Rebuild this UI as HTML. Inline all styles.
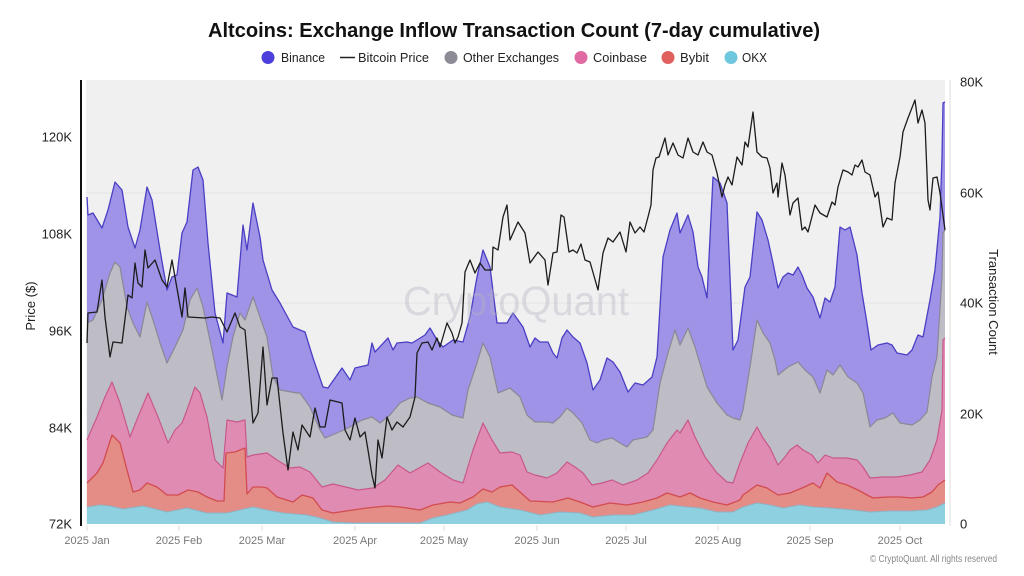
<!DOCTYPE html>
<html><head><meta charset="utf-8"><style>
html,body{margin:0;padding:0;background:#fff;}
svg{display:block;}
text{font-family:"Liberation Sans",sans-serif;}
</style></head><body>
<svg width="1024" height="576" viewBox="0 0 1024 576" xmlns="http://www.w3.org/2000/svg">
<rect x="0" y="0" width="1024" height="576" fill="#ffffff"/>
<!-- title -->
<text x="208" y="37" font-size="20" font-weight="bold" fill="#111" textLength="612" lengthAdjust="spacingAndGlyphs">Altcoins: Exchange Inflow Transaction Count (7-day cumulative)</text>
<!-- legend -->
<g font-size="13" fill="#222">
<circle cx="268" cy="57.5" r="6.5" fill="#4d3fdc"/>
<text x="281" y="62" textLength="44" lengthAdjust="spacingAndGlyphs">Binance</text>
<line x1="340" y1="57.5" x2="355" y2="57.5" stroke="#222" stroke-width="1.5"/>
<text x="358" y="62" textLength="71" lengthAdjust="spacingAndGlyphs">Bitcoin Price</text>
<circle cx="451" cy="57.5" r="6.5" fill="#8d8b95"/>
<text x="463" y="62" textLength="96" lengthAdjust="spacingAndGlyphs">Other Exchanges</text>
<circle cx="581" cy="57.5" r="6.5" fill="#e06aa4"/>
<text x="593" y="62" textLength="54" lengthAdjust="spacingAndGlyphs">Coinbase</text>
<circle cx="668" cy="57.5" r="6.5" fill="#e0605e"/>
<text x="680" y="62" textLength="29" lengthAdjust="spacingAndGlyphs">Bybit</text>
<circle cx="731" cy="57.5" r="6.5" fill="#6fc7df"/>
<text x="742" y="62" textLength="25" lengthAdjust="spacingAndGlyphs">OKX</text>
</g>
<!-- plot bg -->
<rect x="86" y="80" width="859" height="444" fill="#f0f0f0"/>
<g stroke="#e3e3e3" stroke-width="1">
<line x1="86" y1="193" x2="945" y2="193"/>
<line x1="86" y1="303" x2="945" y2="303"/>
<line x1="86" y1="414" x2="945" y2="414"/>
</g>
<!-- areas -->
<g stroke-linejoin="round">
<polygon fill="#9e93e6" points="87,197 88,215 93,213 102,228 108,210 115,182 122,190 128,227 135,248 140,230 147,187 152,200 160,250 167,290 172,277 177,275 182,233 187,222 193,170 198,167 203,180 208,243 215,313 223,343 227,293 237,297 243,225 247,250 253,203 260,237 263,260 272,290 280,303 293,327 300,330 305,332 313,358 323,387 328,388 342,368 350,380 355,368 368,365 372,343 375,352 388,338 393,350 397,343 407,342 412,343 417,340 425,335 430,328 437,340 443,347 453,340 463,342 470,317 477,277 483,250 490,267 497,323 507,323 513,313 523,327 530,347 535,338 540,342 548,342 553,353 557,358 562,338 567,330 573,337 580,343 587,363 593,390 600,380 607,358 613,362 620,372 628,392 635,383 643,385 652,377 657,357 663,257 670,230 677,213 680,233 688,215 693,232 698,267 702,277 707,298 713,177 720,183 727,203 733,350 738,340 745,287 750,277 757,212 762,220 768,240 773,263 778,288 783,277 788,273 793,275 798,267 802,275 807,288 813,297 820,318 825,298 830,302 835,287 840,227 845,230 850,227 857,255 862,293 867,323 871,350 878,345 887,343 892,345 897,353 907,355 912,350 918,335 923,337 930,300 935,270 940,217 942,157 943,103 945,102 945,524 87,524"/>
<polyline fill="none" stroke="#4a3fc4" stroke-width="1.3" points="87,197 88,215 93,213 102,228 108,210 115,182 122,190 128,227 135,248 140,230 147,187 152,200 160,250 167,290 172,277 177,275 182,233 187,222 193,170 198,167 203,180 208,243 215,313 223,343 227,293 237,297 243,225 247,250 253,203 260,237 263,260 272,290 280,303 293,327 300,330 305,332 313,358 323,387 328,388 342,368 350,380 355,368 368,365 372,343 375,352 388,338 393,350 397,343 407,342 412,343 417,340 425,335 430,328 437,340 443,347 453,340 463,342 470,317 477,277 483,250 490,267 497,323 507,323 513,313 523,327 530,347 535,338 540,342 548,342 553,353 557,358 562,338 567,330 573,337 580,343 587,363 593,390 600,380 607,358 613,362 620,372 628,392 635,383 643,385 652,377 657,357 663,257 670,230 677,213 680,233 688,215 693,232 698,267 702,277 707,298 713,177 720,183 727,203 733,350 738,340 745,287 750,277 757,212 762,220 768,240 773,263 778,288 783,277 788,273 793,275 798,267 802,275 807,288 813,297 820,318 825,298 830,302 835,287 840,227 845,230 850,227 857,255 862,293 867,323 871,350 878,345 887,343 892,345 897,353 907,355 912,350 918,335 923,337 930,300 935,270 940,217 942,157 943,103 945,102"/>

<polygon fill="#bebcc4" points="87,323 93,320 102,300 110,273 115,262 120,267 127,307 133,323 140,337 147,302 153,320 160,343 167,363 175,347 183,330 190,300 197,288 203,307 212,350 222,400 227,367 233,337 240,313 245,320 253,297 260,317 267,337 273,377 280,390 297,393 300,393 310,407 320,430 325,438 337,433 350,427 362,420 372,417 380,423 390,415 400,403 410,398 417,397 428,403 440,407 452,415 463,418 468,390 477,363 483,343 490,357 498,393 510,388 520,397 527,415 535,422 547,422 553,423 560,417 567,408 573,413 582,423 590,440 597,443 603,440 612,438 620,443 627,447 633,440 647,437 653,430 660,383 668,353 675,330 680,345 688,328 695,347 707,387 717,403 727,415 733,418 740,420 743,410 750,367 757,320 763,333 770,343 775,360 778,375 788,367 798,362 805,370 813,377 820,393 827,370 833,375 840,365 848,377 857,383 863,393 870,427 877,420 885,418 893,413 900,423 912,425 920,420 927,412 932,377 937,357 942,277 943,233 945,230 945,524 87,524"/>
<polyline fill="none" stroke="#8b8896" stroke-width="1.2" points="87,323 93,320 102,300 110,273 115,262 120,267 127,307 133,323 140,337 147,302 153,320 160,343 167,363 175,347 183,330 190,300 197,288 203,307 212,350 222,400 227,367 233,337 240,313 245,320 253,297 260,317 267,337 273,377 280,390 297,393 300,393 310,407 320,430 325,438 337,433 350,427 362,420 372,417 380,423 390,415 400,403 410,398 417,397 428,403 440,407 452,415 463,418 468,390 477,363 483,343 490,357 498,393 510,388 520,397 527,415 535,422 547,422 553,423 560,417 567,408 573,413 582,423 590,440 597,443 603,440 612,438 620,443 627,447 633,440 647,437 653,430 660,383 668,353 675,330 680,345 688,328 695,347 707,387 717,403 727,415 733,418 740,420 743,410 750,367 757,320 763,333 770,343 775,360 778,375 788,367 798,362 805,370 813,377 820,393 827,370 833,375 840,365 848,377 857,383 863,393 870,427 877,420 885,418 893,413 900,423 912,425 920,420 927,412 932,377 937,357 942,277 943,233 945,230"/>

<polygon fill="#e08bb2" points="87,440 97,417 105,397 112,382 120,403 130,437 138,417 148,393 158,417 168,443 175,430 182,423 187,410 195,387 200,393 207,417 215,460 223,468 227,420 237,422 245,420 247,457 253,455 267,453 277,460 290,468 300,467 310,472 322,487 333,484 350,488 358,490 373,488 385,480 398,465 410,473 428,463 440,472 453,480 463,483 473,450 483,423 492,440 500,453 512,452 520,455 527,472 535,475 547,478 557,473 567,462 575,467 583,473 592,485 602,483 612,480 623,485 637,480 648,473 657,460 667,443 677,430 680,433 688,420 695,437 705,457 717,473 727,482 733,483 740,463 748,443 757,427 763,438 770,448 778,465 785,457 790,450 797,445 803,450 812,455 818,463 825,455 833,458 847,458 857,460 863,467 870,478 883,477 897,477 910,475 922,472 930,460 937,440 942,410 943,340 945,338 945,524 87,524"/>
<polyline fill="none" stroke="#c8588b" stroke-width="1.2" points="87,440 97,417 105,397 112,382 120,403 130,437 138,417 148,393 158,417 168,443 175,430 182,423 187,410 195,387 200,393 207,417 215,460 223,468 227,420 237,422 245,420 247,457 253,455 267,453 277,460 290,468 300,467 310,472 322,487 333,484 350,488 358,490 373,488 385,480 398,465 410,473 428,463 440,472 453,480 463,483 473,450 483,423 492,440 500,453 512,452 520,455 527,472 535,475 547,478 557,473 567,462 575,467 583,473 592,485 602,483 612,480 623,485 637,480 648,473 657,460 667,443 677,430 680,433 688,420 695,437 705,457 717,473 727,482 733,483 740,463 748,443 757,427 763,438 770,448 778,465 785,457 790,450 797,445 803,450 812,455 818,463 825,455 833,458 847,458 857,460 863,467 870,478 883,477 897,477 910,475 922,472 930,460 937,440 942,410 943,340 945,338"/>

<polygon fill="#e48d87" points="87,483 97,473 103,463 112,435 120,443 127,470 133,492 140,490 147,483 157,487 167,495 178,495 188,490 198,492 207,497 217,501 224,501 226,453 235,452 245,448 247,494 253,487 262,487 267,488 277,497 293,502 302,495 313,498 322,510 333,513 353,510 367,508 387,506 400,507 420,510 433,505 450,502 460,503 473,497 483,489 492,492 500,487 512,485 520,492 530,501 553,502 568,498 580,502 593,507 610,503 627,505 643,502 657,498 667,493 680,497 690,493 700,498 713,502 727,505 740,500 743,495 757,485 767,488 778,495 790,493 802,488 813,483 820,488 827,473 837,482 847,485 858,490 867,495 873,498 887,497 900,497 912,498 923,497 932,492 938,485 945,480 945,524 87,524"/>
<polyline fill="none" stroke="#d24c4f" stroke-width="1.3" points="87,483 97,473 103,463 112,435 120,443 127,470 133,492 140,490 147,483 157,487 167,495 178,495 188,490 198,492 207,497 217,501 224,501 226,453 235,452 245,448 247,494 253,487 262,487 267,488 277,497 293,502 302,495 313,498 322,510 333,513 353,510 367,508 387,506 400,507 420,510 433,505 450,502 460,503 473,497 483,489 492,492 500,487 512,485 520,492 530,501 553,502 568,498 580,502 593,507 610,503 627,505 643,502 657,498 667,493 680,497 690,493 700,498 713,502 727,505 740,500 743,495 757,485 767,488 778,495 790,493 802,488 813,483 820,488 827,473 837,482 847,485 858,490 867,495 873,498 887,497 900,497 912,498 923,497 932,492 938,485 945,480"/>

<polygon fill="#8ecfe0" points="87,507 100,505 110,506 123,509 143,506 167,512 187,508 207,513 227,513 240,510 253,507 267,510 283,513 307,515 320,518 333,522 353,523 383,523 420,523 433,518 447,515 467,510 477,504 487,502 500,507 520,510 540,515 560,512 580,513 593,517 613,515 633,515 653,510 670,505 687,507 700,508 717,512 733,512 743,507 757,503 770,505 783,508 800,505 813,507 830,508 853,510 870,512 890,511 910,511 927,510 937,507 945,503 945,524 87,524"/>
<polyline fill="none" stroke="#8fb3c4" stroke-width="1" points="87,507 100,505 110,506 123,509 143,506 167,512 187,508 207,513 227,513 240,510 253,507 267,510 283,513 307,515 320,518 333,522 353,523 383,523 420,523 433,518 447,515 467,510 477,504 487,502 500,507 520,510 540,515 560,512 580,513 593,517 613,515 633,515 653,510 670,505 687,507 700,508 717,512 733,512 743,507 757,503 770,505 783,508 800,505 813,507 830,508 853,510 870,512 890,511 910,511 927,510 937,507 945,503"/>
</g>
<!-- watermark -->
<text x="403" y="315" font-size="41" fill="#b4b4c4" fill-opacity="0.4" textLength="226" lengthAdjust="spacingAndGlyphs">CryptoQuant</text>
<!-- price line -->
<polyline fill="none" stroke="#1c1c1c" stroke-width="1.3" stroke-linejoin="round" points="87,343 88,313 97,312 102,280 105,317 110,357 113,342 122,343 128,295 132,298 135,263 138,283 142,287 145,250 148,268 155,260 162,280 167,287 172,260 175,277 182,317 185,288 188,317 205,318 212,317 220,318 227,332 235,313 240,327 245,330 253,423 258,413 263,347 267,405 272,378 277,378 283,433 288,470 293,432 298,450 302,425 310,437 315,408 320,427 325,427 330,400 338,402 342,403 345,430 350,440 355,418 360,437 365,432 368,450 372,475 375,488 378,440 382,458 387,417 392,430 397,422 403,427 410,417 415,397 417,353 422,343 428,342 432,350 437,338 440,347 447,323 452,333 455,343 458,337 462,323 465,272 470,260 475,273 480,263 485,270 492,270 493,247 498,250 503,217 507,205 510,240 518,222 525,233 530,263 538,252 545,260 548,285 553,253 557,252 561,215 564,217 569,252 573,250 577,253 581,244 585,260 590,262 598,290 603,253 608,238 613,242 620,232 626,252 630,222 635,233 640,227 644,232 648,217 651,205 653,170 656,158 659,157 665,138 668,155 673,143 678,155 683,158 688,138 693,152 698,155 703,142 707,152 712,155 717,173 722,197 725,185 728,177 732,185 737,157 742,165 745,142 748,147 753,112 757,152 762,157 767,158 770,168 773,193 777,183 778,197 782,163 785,175 790,215 793,203 798,198 802,230 805,227 808,232 815,205 820,213 827,217 832,202 835,205 838,187 843,170 848,172 852,175 855,165 858,167 862,160 865,172 870,175 875,197 878,192 883,227 887,218 892,220 895,183 900,157 903,132 908,118 915,100 918,123 922,110 925,123 928,200 930,210 933,178 937,177 940,193 945,230"/>
<!-- axes -->
<line x1="81" y1="80" x2="81" y2="526" stroke="#111" stroke-width="2"/>
<line x1="950" y1="80" x2="950" y2="526" stroke="#dcdcdc" stroke-width="1"/>
<g stroke="#dddddd" stroke-width="1">
<line x1="87" y1="525" x2="87" y2="531"/><line x1="179" y1="525" x2="179" y2="531"/><line x1="262" y1="525" x2="262" y2="531"/><line x1="355" y1="525" x2="355" y2="531"/><line x1="444" y1="525" x2="444" y2="531"/><line x1="537" y1="525" x2="537" y2="531"/><line x1="626" y1="525" x2="626" y2="531"/><line x1="718" y1="525" x2="718" y2="531"/><line x1="810" y1="525" x2="810" y2="531"/><line x1="900" y1="525" x2="900" y2="531"/>
</g>
<g font-size="13" fill="#222" text-anchor="end">
<text x="72" y="141.5">120K</text>
<text x="72" y="238.5">108K</text>
<text x="72" y="335.5">96K</text>
<text x="72" y="432.5">84K</text>
<text x="72" y="528.5">72K</text>
</g>
<g font-size="13" fill="#222">
<text x="960" y="86.5">80K</text>
<text x="960" y="197.5">60K</text>
<text x="960" y="307.5">40K</text>
<text x="960" y="418.5">20K</text>
<text x="960" y="528.5">0</text>
</g>
<text transform="translate(35,306) rotate(-90)" font-size="13" fill="#222" text-anchor="middle">Price ($)</text>
<text transform="translate(989,302) rotate(90)" font-size="13" fill="#222" text-anchor="middle">Transaction Count</text>
<g font-size="11" fill="#777" text-anchor="middle">
<text x="87" y="544">2025 Jan</text>
<text x="179" y="544">2025 Feb</text>
<text x="262" y="544">2025 Mar</text>
<text x="355" y="544">2025 Apr</text>
<text x="444" y="544">2025 May</text>
<text x="537" y="544">2025 Jun</text>
<text x="626" y="544">2025 Jul</text>
<text x="718" y="544">2025 Aug</text>
<text x="810" y="544">2025 Sep</text>
<text x="900" y="544">2025 Oct</text>
</g>
<text x="870" y="562" font-size="10" fill="#888" textLength="127" lengthAdjust="spacingAndGlyphs">© CryptoQuant. All rights reserved</text>
</svg>
</body></html>
